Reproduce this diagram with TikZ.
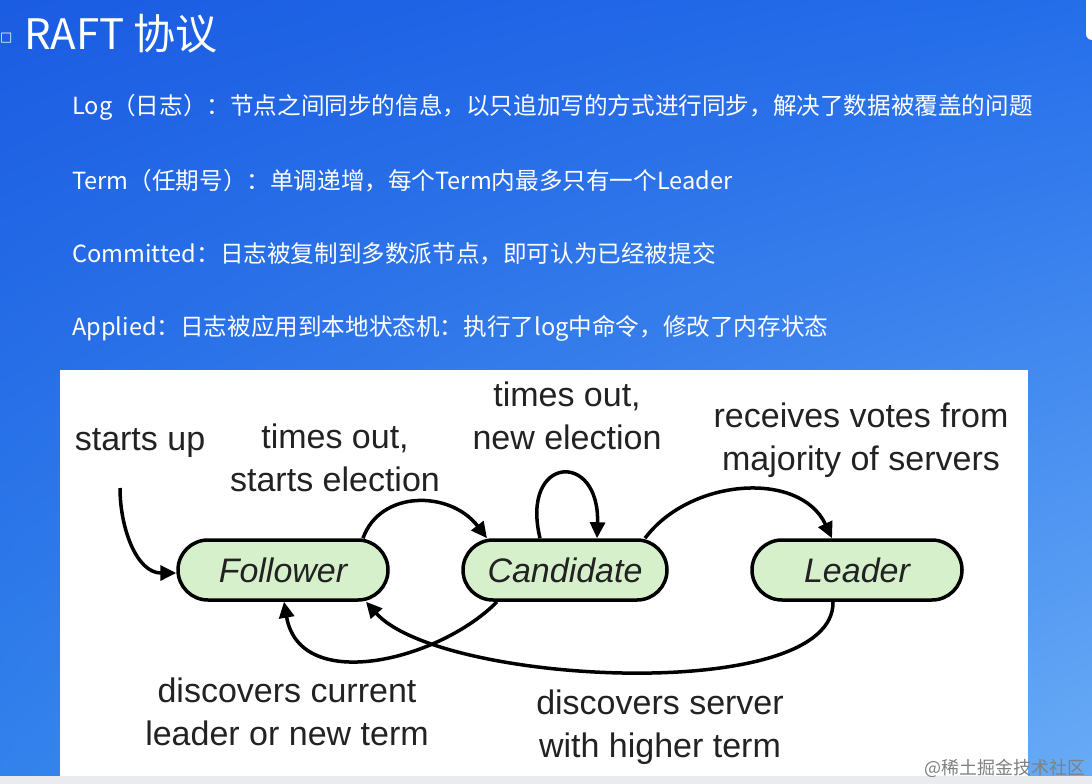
\documentclass[tikz,border=0pt]{standalone}
\usepackage{fontspec}
\setmainfont{Liberation Sans}
\newfontfamily\cjkfont{Noto Sans CJK SC}
\newfontfamily\symfont{DejaVu Sans}
\usetikzlibrary{calc, arrows.meta, shadings}

\definecolor{bgdark}{RGB}{27,92,226}
\definecolor{bgmid}{RGB}{36,110,234}
\definecolor{bglow}{RGB}{50,130,236}
\definecolor{bglight}{RGB}{105,172,246}
\definecolor{statefill}{RGB}{214,240,204}
\definecolor{inkgray}{RGB}{34,34,34}
\definecolor{stripgray}{RGB}{233,235,239}

\begin{document}
\begin{tikzpicture}[x=1pt, y=-1pt,
    state/.style={draw=black, line width=3.5pt, fill=statefill, rounded corners=30pt,
      minimum height=60pt, inner sep=0pt, text=inkgray,
      font=\fontsize{34}{40}\selectfont\itshape},
    lbl/.style={align=center, text=inkgray, inner sep=0pt,
      font=\fontsize{34}{43}\selectfont},
    line/.style={anchor=west, text=white, inner sep=0pt,
      font=\cjkfont\fontsize{23.6}{28}\selectfont},
    edge/.style={line width=3.5pt, -{Triangle[length=16pt,width=15pt]}}]
  \useasboundingbox (0,0) rectangle (1092,784);
  \shade[upper left=bgdark, upper right=bgmid, lower left=bglow, lower right=bglight]
    (0,0) rectangle (1092,784);
  \fill[white, rounded corners=6pt] (1086,-20) rectangle (1110,40);
  \fill[stripgray] (0,776) rectangle (1092,784);
  \fill[white] (60,370) rectangle (1028,776);

  \node[anchor=west, text=white, inner sep=0pt, font=\symfont\fontsize{13}{13}\selectfont] (box) at (0,38) {□};
  \node[anchor=west, text=white, inner sep=0pt, font=\cjkfont\fontsize{42}{46}\selectfont] (title) at (24,34) {RAFT 协议};

  \node[line] (log) at (72,107) {Log（日志）：节点之间同步的信息，以只追加写的方式进行同步，解决了数据被覆盖的问题};
  \node[line] (term) at (72,181) {Term（任期号）：单调递增，每个Term内最多只有一个Leader};
  \node[line] (committed) at (72,254) {Committed：日志被复制到多数派节点，即可认为已经被提交};
  \node[line] (applied) at (72,328) {Applied：日志被应用到本地状态机：执行了log中命令，修改了内存状态};

  \node[state, minimum width=210pt] (F) at (283,570) {Follower};
  \node[state, minimum width=204pt] (C) at (565,570) {Candidate};
  \node[state, minimum width=210pt] (L) at (857,570) {Leader};

  \node[lbl] (startsup) at (140,443) {starts up};
  \node[lbl] (timeout) at (335,458) {times out,\\starts election};
  \node[lbl] (newelect) at (567,416) {times out,\\new election};
  \node[lbl] (votes) at (861,440) {receives votes from\\majority of servers};
  \node[lbl] (current) at (287,712) {discovers current\\leader or new term};
  \node[lbl] (higher) at (660,727) {discovers server\\with higher term};

  \coordinate (S) at (120,488);
  \draw[edge] (S) to[out=-90, in=180] ([yshift=-3pt]F.west);
  \draw[edge] ([xshift=80pt]F.north) .. controls (380,490) and (450,490) .. ([xshift=-78pt]C.north);
  \draw[edge] ([xshift=-25pt]C.north) .. controls (520,455) and (600,450) .. ([xshift=32pt]C.north);
  \draw[edge] ([xshift=80pt]C.north) .. controls (690,478) and (800,470) .. ([xshift=-25pt]L.north);
  \draw[edge] ([xshift=-68pt]C.south) .. controls (440,660) and (300,695) .. ([xshift=1pt]F.south);
  \draw[edge] ([xshift=-24pt]L.south) .. controls (835,705) and (440,685) .. ([xshift=83pt]F.south);

  \node[anchor=east, text=gray, inner sep=0pt, font=\cjkfont\fontsize{18}{20}\selectfont] (mark) at (1086,768) {@稀土掘金技术社区};
\end{tikzpicture}
\end{document}
